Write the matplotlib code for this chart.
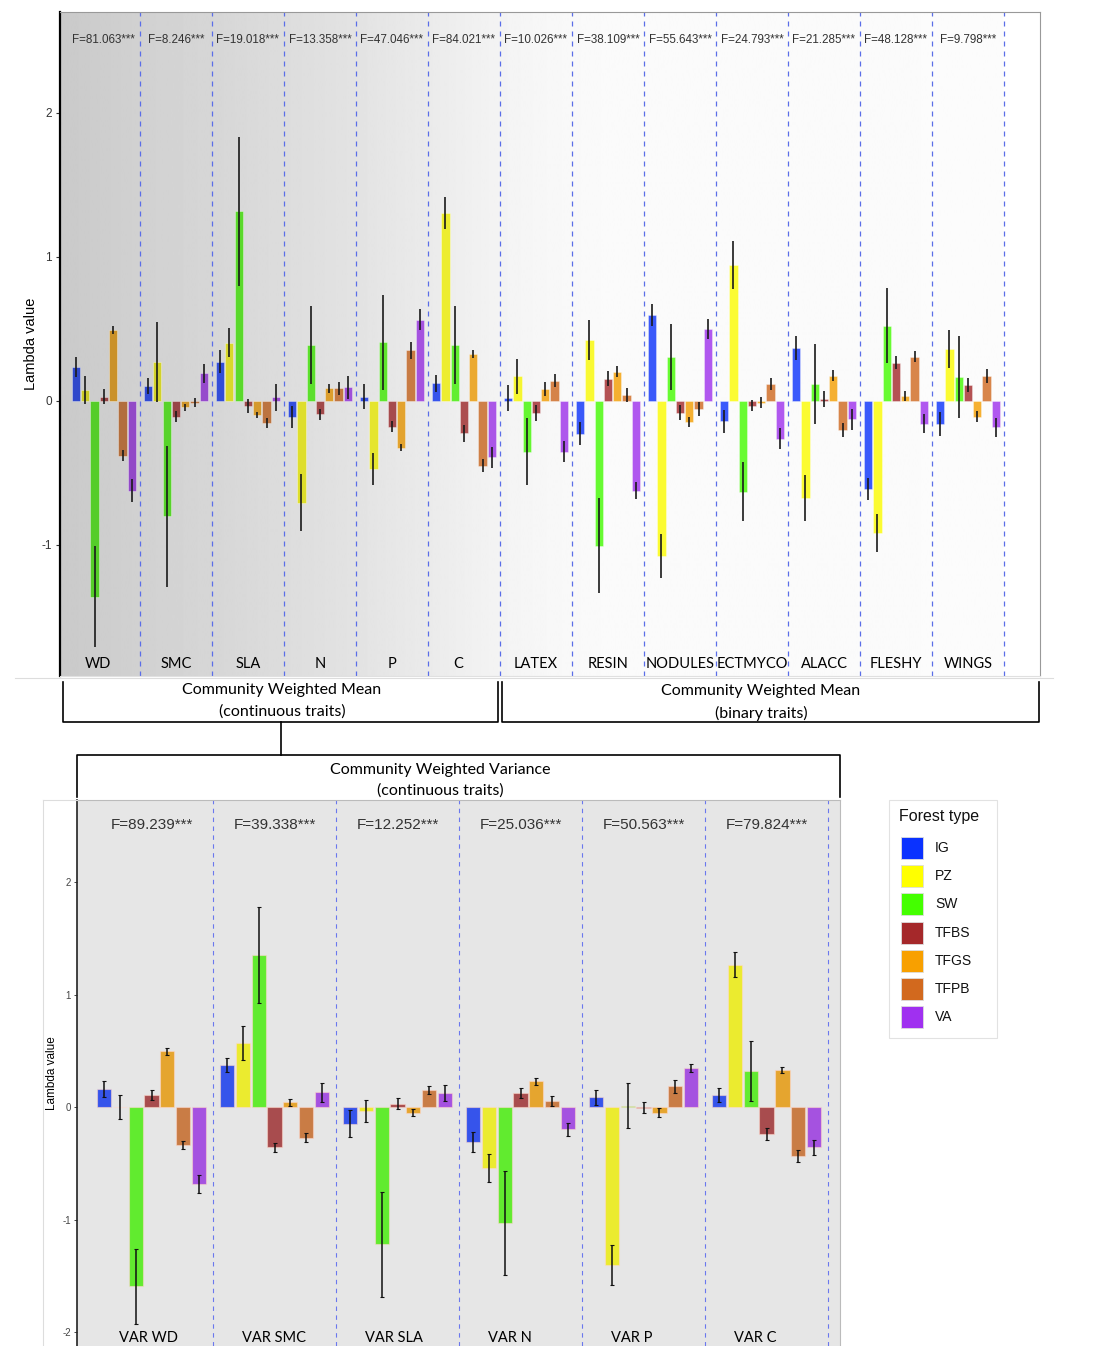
import numpy as np
import matplotlib
matplotlib.use("Agg")
import matplotlib.pyplot as plt
from matplotlib.lines import Line2D
from matplotlib.patches import Rectangle
from matplotlib.colors import to_rgb

W, H = 1093, 1346

forest_types = ["IG", "PZ", "SW", "TFBS", "TFGS", "TFPB", "VA"]
type_colors = ["#0a32ff", "#ffff00", "#44ff00", "#a5282a", "#f8a000", "#d2691e", "#a030f0"]

# ---- Community weighted mean (top panel) ----
cwm_traits = ["WD", "SMC", "SLA", "N", "P", "C", "LATEX", "RESIN", "NODULES",
              "ECTMYCO", "ALACC", "FLESHY", "WINGS"]
cwm_F = ["F=81.063***", "F=8.246***", "F=19.018***", "F=13.358***", "F=47.046***",
         "F=84.021***", "F=10.026***", "F=38.109***", "F=55.643***", "F=24.793***",
         "F=21.285***", "F=48.128***", "F=9.798***"]
cwm_IG = [0.234, 0.106, 0.273, -0.113, 0.03, 0.123, 0.02, -0.229, 0.597, -0.143, 0.366, -0.613, -0.162]
cwm_IG_err = [0.07, 0.055, 0.08, 0.077, 0.085, 0.06, 0.09, 0.08, 0.075, 0.08, 0.083, 0.078, 0.085]
cwm_PZ = [0.076, 0.27, 0.405, -0.706, -0.475, 1.303, 0.17, 0.424, -1.074, 0.942, -0.676, -0.919, 0.361]
cwm_PZ_err = [0.10, 0.275, 0.10, 0.2, 0.11, 0.11, 0.12, 0.14, 0.153, 0.165, 0.16, 0.133, 0.13]
cwm_SW = [-1.36, -0.80, 1.315, 0.389, 0.407, 0.389, -0.352, -1.005, 0.303, -0.63, 0.118, 0.523, 0.164]
cwm_SW_err = [0.35, 0.49, 0.515, 0.27, 0.33, 0.27, 0.23, 0.33, 0.23, 0.207, 0.278, 0.258, 0.286]
cwm_TFBS = [0.03, -0.109, -0.035, -0.093, -0.178, -0.225, -0.086, 0.155, -0.081, -0.035, 0.014, 0.266, 0.109]
cwm_TFBS_err = [0.05, 0.04, 0.05, 0.038, 0.04, 0.06, 0.057, 0.055, 0.05, 0.038, 0.055, 0.046, 0.05]
cwm_TFGS = [0.493, -0.044, -0.097, 0.088, -0.324, 0.326, 0.083, 0.204, -0.146, -0.012, 0.174, 0.035, -0.109]
cwm_TFGS_err = [0.027, 0.025, 0.023, 0.03, 0.025, 0.027, 0.046, 0.037, 0.037, 0.038, 0.038, 0.035, 0.038]
cwm_TFPB = [-0.38, -0.012, -0.155, 0.088, 0.35, -0.449, 0.141, 0.042, -0.058, 0.118, -0.201, 0.308, 0.174]
cwm_TFPB_err = [0.04, 0.03, 0.035, 0.045, 0.06, 0.046, 0.046, 0.05, 0.05, 0.044, 0.05, 0.04, 0.05]
cwm_VA = [-0.623, 0.192, 0.025, 0.093, 0.5625, -0.391, -0.352, -0.623, 0.5, -0.262, -0.127, -0.157, -0.183]
cwm_VA_err = [0.08, 0.066, 0.095, 0.08, 0.073, 0.073, 0.075, 0.06, 0.07, 0.072, 0.072, 0.066, 0.067]

# ---- Community weighted variance (bottom panel) ----
cwv_traits = ["VAR WD", "VAR SMC", "VAR SLA", "VAR N", "VAR P", "VAR C"]
cwv_F = ["F=89.239***", "F=39.338***", "F=12.252***", "F=25.036***", "F=50.563***", "F=79.824***"]
cwv_IG = [0.161, 0.377, -0.148, -0.312, 0.087, 0.111]
cwv_IG_err = [0.072, 0.062, 0.12, 0.09, 0.066, 0.062]
cwv_PZ = [0.0, 0.569, -0.034, -0.538, -1.403, 1.264]
cwv_PZ_err = [0.11, 0.151, 0.1, 0.124, 0.18, 0.111]
cwv_SW = [-1.595, 1.351, -1.221, -1.03, 0.012, 0.321]
cwv_SW_err = [0.334, 0.43, 0.47, 0.46, 0.2, 0.263]
cwv_TFBS = [0.105, -0.359, 0.031, 0.121, -0.005, -0.241]
cwv_TFBS_err = [0.046, 0.037, 0.048, 0.045, 0.046, 0.054]
cwv_TFGS = [0.495, 0.043, -0.05, 0.229, -0.05, 0.331]
cwv_TFGS_err = [0.03, 0.03, 0.03, 0.031, 0.037, 0.026]
cwv_TFPB = [-0.334, -0.272, 0.148, 0.053, 0.185, -0.436]
cwv_TFPB_err = [0.035, 0.04, 0.035, 0.046, 0.059, 0.05]
cwv_VA = [-0.686, 0.13, 0.124, -0.198, 0.346, -0.359]
cwv_VA_err = [0.08, 0.088, 0.07, 0.059, 0.035, 0.07]

cwm_vals = [cwm_IG, cwm_PZ, cwm_SW, cwm_TFBS, cwm_TFGS, cwm_TFPB, cwm_VA]
cwm_errs = [cwm_IG_err, cwm_PZ_err, cwm_SW_err, cwm_TFBS_err, cwm_TFGS_err, cwm_TFPB_err, cwm_VA_err]
cwv_vals = [cwv_IG, cwv_PZ, cwv_SW, cwv_TFBS, cwv_TFGS, cwv_TFPB, cwv_VA]
cwv_errs = [cwv_IG_err, cwv_PZ_err, cwv_SW_err, cwv_TFBS_err, cwv_TFGS_err, cwv_TFPB_err, cwv_VA_err]

LATO = ["Lato", "DejaVu Sans"]
ARIAL = ["Liberation Sans", "DejaVu Sans"]

fig = plt.figure(figsize=(W / 100, H / 100), dpi=100)
fig.patch.set_facecolor("white")


def fax(x0, y0, w, h):
    return [x0 / W, 1 - (y0 + h) / H, w / W, h / H]


def fpt(x, y):
    return x / W, 1 - y / H


def fline(xs, ys, **kw):
    fx = [x / W for x in xs]
    fy = [1 - y / H for y in ys]
    fig.add_artist(Line2D(fx, fy, transform=fig.transFigure, **kw))


step, width = 0.129, 0.115
alpha = 0.8


def shade(c, g):
    r = np.array(to_rgb(c))
    return tuple(np.clip((alpha * r + (1 - alpha)) * g, 0, 1))


# ================= TOP PANEL =================
ax1 = fig.add_axes(fax(60, 12, 980, 664))
x1 = np.arange(len(cwm_traits))
xlo, xhi = -0.61, 13.0
ylo1, yhi1 = -1.91, 2.70
ax1.set_xlim(xlo, xhi)
ax1.set_ylim(ylo1, yhi1)

gx = np.linspace(xlo, xhi, 800)
gp_x = [xlo, 0.5, 1.5, 2.5, 3.5, 4.5, 5.5, 6.3, 7.0, 12.49, 12.51, xhi]
gp_v = [0.79, 0.82, 0.84, 0.865, 0.89, 0.92, 0.955, 0.972, 0.982, 0.985, 1.0, 1.0]
gvals = np.interp(gx, gp_x, gp_v)
ax1.imshow(gvals[None, :], extent=[xlo, xhi, ylo1, yhi1], aspect="auto",
           cmap="gray", vmin=0, vmax=1, zorder=0, interpolation="bilinear")

for k in range(len(forest_types)):
    xs = x1 + (k - 3) * step
    gs = np.interp(xs, gp_x, gp_v)
    cols = [shade(type_colors[k], g) for g in gs]
    ax1.bar(xs, cwm_vals[k], width=width, color=cols,
            edgecolor=(1, 1, 1, 0.35), linewidth=0.7, zorder=2)
    ax1.errorbar(xs, cwm_vals[k], yerr=cwm_errs[k], fmt="none",
                 ecolor="#1a1a1a", elinewidth=1.2, capsize=0, zorder=3)

for b in np.arange(0.5, len(cwm_traits), 1.0):
    ax1.axvline(b, color="#5b6ee8", lw=0.9, ls=(0, (4, 4)), zorder=1)

for i, t in enumerate(cwm_traits):
    xt = i - 0.08 if i in (0, 5) else i
    ax1.text(xt, -1.826, t, ha="center", va="center", fontsize=10.5,
             family=LATO, color="black", zorder=4)
    ax1.text(i, 2.507, cwm_F[i], ha="center", va="center", fontsize=8.4,
             family=ARIAL, color="#333333", zorder=4)

ax1.set_xticks([])
ax1.set_yticks([-1, 0, 1, 2])
ax1.set_yticklabels(["-1", "0", "1", "2"], family=ARIAL)
ax1.tick_params(axis="y", labelsize=8.5, colors="#333333", length=3, width=0.8, pad=3)
ax1.set_ylabel("Lambda value", family=ARIAL, fontsize=10.5, labelpad=2)
ax1.spines["left"].set_color("black")
ax1.spines["left"].set_linewidth(1.6)
for s in ["top", "right"]:
    ax1.spines[s].set_color("#999999")
    ax1.spines[s].set_linewidth(0.8)
ax1.spines["bottom"].set_color("#e0e0e0")

# ================= BRACKETS =================
fline([15, 1053], [678, 678], color="#dddddd", lw=0.8)
bk = dict(color="black", lw=1.2)
fline([63, 63, 498, 498], [682, 722, 722, 682], **bk)
fline([502, 502, 1039, 1039], [682, 722, 722, 682], **bk)
fline([281, 281], [722, 755], **bk)
fline([77, 77, 840, 840], [797, 755, 755, 797], **bk)

fig.text(*fpt(282, 690), "Community Weighted Mean", ha="center", va="center",
         fontsize=11.5, family=LATO)
fig.text(*fpt(282, 712), "(continuous traits)", ha="center", va="center",
         fontsize=11.5, family=LATO)
fig.text(*fpt(761, 691), "Community Weighted Mean", ha="center", va="center",
         fontsize=11.5, family=LATO)
fig.text(*fpt(761, 713), "(binary traits)", ha="center", va="center",
         fontsize=11.5, family=LATO)
fig.text(*fpt(440, 770), "Community Weighted Variance", ha="center", va="center",
         fontsize=11.5, family=LATO)
fig.text(*fpt(440, 791), "(continuous traits)", ha="center", va="center",
         fontsize=11.5, family=LATO)

# ================= BOTTOM PANEL =================
fline([43, 43], [800, 1346], color="#dddddd", lw=0.8)
fline([43, 77], [800, 800], color="#dddddd", lw=0.8)

ax2 = fig.add_axes(fax(77, 800, 763, 546))
ax2.set_facecolor("#e6e6e6")
x2 = np.arange(len(cwv_traits))
ax2.set_xlim(-0.606, 5.597)
ax2.set_ylim(-2.124, 2.729)
for k in range(len(forest_types)):
    xs = x2 + (k - 3) * step
    col = shade(type_colors[k], 0.92)
    ax2.bar(xs, cwv_vals[k], width=width, color=col,
            edgecolor=(1, 0.85, 0.8, 0.55), linewidth=0.8, zorder=2)
    ax2.errorbar(xs, cwv_vals[k], yerr=cwv_errs[k], fmt="none",
                 ecolor="#111111", elinewidth=1.1, capsize=1.2, capthick=0.8, zorder=3)
for b in np.arange(0.5, len(cwv_traits), 1.0):
    ax2.axvline(b, color="#6a78ee", lw=0.8, ls=(0, (4, 4)), zorder=1)
for i, t in enumerate(cwv_traits):
    ax2.text(i - 0.265, -2.053, t, ha="left", va="center", fontsize=10.5,
             family=LATO, color="black", zorder=4)
    ax2.text(i, 2.507, cwv_F[i], ha="center", va="center", fontsize=11,
             family=ARIAL, color="#333333", zorder=4)
ax2.set_xticks([])
ax2.set_yticks([-2, -1, 0, 1, 2])
ax2.set_yticklabels(["-2", "-1", "0", "1", "2"], family=ARIAL)
ax2.tick_params(axis="y", labelsize=7, colors="#444444", length=2.5, width=0.7, pad=2)
ax2.set_ylabel("Lambda value", family=ARIAL, fontsize=8.5, labelpad=3)
ax2.spines["left"].set_color("#222222")
ax2.spines["left"].set_linewidth(1.2)
for s in ["top", "right"]:
    ax2.spines[s].set_color("#bbbbbb")
    ax2.spines[s].set_linewidth(0.8)
ax2.spines["bottom"].set_visible(False)

# ================= LEGEND =================
lx0, ly0, lx1, ly1 = 889, 800, 997, 1038
fig.add_artist(Rectangle(fpt(lx0, ly1), (lx1 - lx0) / W, (ly1 - ly0) / H,
                         transform=fig.transFigure, facecolor="white",
                         edgecolor="#e2e2e2", lw=0.8))
fig.text(*fpt(899, 817), "Forest type", ha="left", va="center", fontsize=11.5,
         family=ARIAL, color="#111111")
for k, (name, c) in enumerate(zip(forest_types, type_colors)):
    yc = 848 + 28.2 * k
    fig.add_artist(Rectangle(fpt(901, yc + 11), 22 / W, 22 / H,
                             transform=fig.transFigure, facecolor=c,
                             edgecolor="#dddddd", lw=0.6))
    fig.text(*fpt(935, yc), name, ha="left", va="center", fontsize=10,
             family=ARIAL, color="#111111")

fig.savefig("out.png", dpi=100)
